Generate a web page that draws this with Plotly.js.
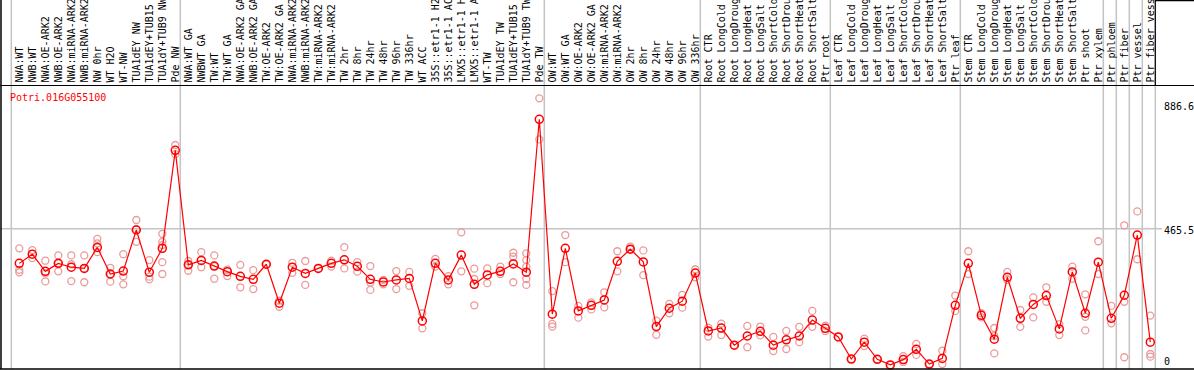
<!DOCTYPE html>
<html>
<head>
<meta charset="utf-8">
<script src="https://cdn.plot.ly/plotly-3.0.1.min.js"></script>
<style>
  html, body { margin: 0; padding: 0; background: #ffffff; }
  #chart { width: 1194px; height: 370px; }
</style>
</head>
<body>
<div id="chart"></div>
<script>
// ---------------- data ----------------
const geneId = 'Potri.016G055100';

const categories = [
  'NWA:WT', 'NWB:WT', 'NWA:OE-ARK2', 'NWB:OE-ARK2', 'NWA:miRNA-ARK2', 'NWB:miRNA-ARK2',
  'NW 0hr', 'WT H2O', 'WT-NW', 'TUA1dEY NW', 'TUA1dEY+TUB15', 'TUA1dY+TUB9 NW', 'Pde NW',
  'NWA:WT GA', 'NWBWT GA', 'TW:WT', 'TW:WT GA', 'NWA:OE-ARK2 GA', 'NWB:OE-ARK2 GA',
  'TW:OE-ARK2', 'TW:OE-ARK2 GA', 'NWA:miRNA-ARK2', 'NWB:miRNA-ARK2', 'TW:miRNA-ARK2',
  'TW:miRNA-ARK2', 'TW 2hr', 'TW 8hr', 'TW 24hr', 'TW 48hr', 'TW 96hr', 'TW 336hr',
  'WT ACC', '35S::etr1-1 H2O', '35S::etr1-1 ACC', 'LMX5::etr1-1 H2O', 'LMX5::etr1-1 ACC',
  'WT-TW', 'TUA1dEY TW', 'TUA1dEY+TUB15', 'TUA1dY+TUB9 TW', 'Pde TW',
  'OW:WT', 'OW:WT GA', 'OW:OE-ARK2', 'OW:OE-ARK2 GA', 'OW:miRNA-ARK2', 'OW:miRNA-ARK2',
  'OW 2hr', 'OW 8hr', 'OW 24hr', 'OW 48hr', 'OW 96hr', 'OW 336hr',
  'Root CTR', 'Root LongCold', 'Root LongDrought', 'Root LongHeat', 'Root LongSalt',
  'Root ShortCold', 'Root ShortDrought', 'Root ShortHeat', 'Root ShortSalt', 'Ptr root',
  'Leaf CTR', 'Leaf LongCold', 'Leaf LongDrought', 'Leaf LongHeat', 'Leaf LongSalt',
  'Leaf ShortCold', 'Leaf ShortDrought', 'Leaf ShortHeat', 'Leaf ShortSalt', 'Ptr leaf',
  'Stem CTR', 'Stem LongCold', 'Stem LongDrought', 'Stem LongHeat', 'Stem LongSalt',
  'Stem ShortCold', 'Stem ShortDrought', 'Stem ShortHeat', 'Stem ShortSalt', 'Ptr shoot',
  'Ptr xylem', 'Ptr phloem', 'Ptr fiber', 'Ptr vessel', 'Ptr fiber vessel'
];

// number of samples in each experiment block (separated by grey lines)
const groupSizes = [13, 28, 12, 10, 10, 11, 1, 1, 1, 1];

const meanValues = [
  348, 379, 321, 348, 335, 331, 402, 312, 322, 461, 318, 399, 731,
  343, 358, 339, 320, 304, 294, 345, 213, 335, 314, 331, 348, 360, 338, 294, 285, 292, 297,
  153, 348, 292, 376, 277, 309, 321, 346, 318, 836,
  176, 399, 187, 206, 224, 355, 396, 353, 134, 196, 220, 315,
  119, 129, 71, 102, 118, 71, 89, 102, 156, 128,
  99, 24, 81, 23, 4, 22, 57, 7, 26, 206,
  348, 172, 91, 301, 162, 209, 239, 126, 319, 179, 352,
  162, 240, 444, 81
];

const replicateValues = [
  [399, 326, 318], [393, 366], [357, 314, 287], [375, 348, 321], [375, 345, 288],
  [375, 331, 284], [431, 416, 386], [333, 312, 286], [379, 304, 277], [495, 464, 421],
  [359, 303, 294], [448, 421, 410, 352, 312], [749, 718],
  [356, 343, 323], [386, 335], [375, 339, 296], [327, 305], [343, 267], [325, 261],
  [345], [222, 201], [350, 316], [356, 275], [331], [357, 337], [403, 331], [352, 320],
  [339, 283, 258], [292, 277], [322, 261], [319, 272], [179, 128], [363, 337], [305, 277],
  [453, 321], [330, 295, 206], [331, 281], [337, 312], [384, 371, 284],
  [382, 359, 337, 295, 275], [907, 768],
  [254, 143, 134], [444, 352], [204, 164], [216, 192], [250, 199], [389, 321],
  [405, 396], [392, 308], [154, 106], [211, 179], [241, 198], [328, 301],
  [130, 100], [144, 105], [71], [136, 64], [134, 104], [99, 51], [119, 58], [133, 81],
  [187, 133], [137, 119],
  [99], [24], [93, 68], [23], [4], [34, 14], [75, 38], [7], [52, 7], [239, 187],
  [389, 312], [179, 165], [129, 102, 43], [319, 292], [190, 133], [233, 165], [267, 218],
  [142, 105], [337, 296], [243, 167, 121], [423, 312],
  [204, 145], [477, 218, 30], [524, 362], [171, 41, 32]
];

const yTickValues = [0, 465.5, 886.6];
const yTickLabels = ['0', '465.5', '886.6'];

// ---------------- build traces ----------------
const xIdx = categories.map((_, i) => i);
const repX = [], repY = [];
replicateValues.forEach((vals, i) => vals.forEach(v => { repX.push(i); repY.push(v); }));

const FONT = 'DejaVu Sans Mono, Liberation Mono, monospace';

const traces = [
  {
    type: 'scatter', mode: 'markers', x: repX, y: repY, hoverinfo: 'y',
    marker: { symbol: 'circle-open', size: 7, color: '#ec9a9a', line: { width: 1.3, color: '#ec9a9a' } },
    showlegend: false, cliponaxis: false
  },
  {
    type: 'scatter', mode: 'lines+markers', x: xIdx, y: meanValues, hoverinfo: 'x+y',
    line: { color: '#ff0000', width: 1.2 },
    marker: { symbol: 'circle-open', size: 8, color: '#ff0000', line: { width: 1.5, color: '#ff0000' } },
    showlegend: false, cliponaxis: false
  }
];

// ---------------- geometry ----------------
const W = 1194, H = 370;
const plotTop = 86, plotBottom = 369;
const firstX = 19.3, step = 13;                  // px of the first sample, px between samples
const xr0 = -firstX / step, xr1 = (W - firstX) / step;
const zeroY = 366.1, pxPerUnit = 0.2952;
const yr1 = (zeroY - plotTop) / pxPerUnit, yr0 = -(plotBottom - zeroY) / pxPerUnit;
const paperTop = (plotBottom - 0) / (plotBottom - plotTop);  // paper y of page top

const shapes = [];
// group separators
let cum = -1;
const sepPositions = [cum + 5 / step];
groupSizes.forEach(n => { cum += n; sepPositions.push(cum + 5 / step); });
sepPositions.forEach(p => shapes.push({
  type: 'line', xref: 'x', yref: 'paper', x0: p, x1: p, y0: 0, y1: paperTop,
  line: { color: '#c4c4c4', width: 1.5 }, layer: 'below'
}));
// horizontal grid line at the middle tick
shapes.push({
  type: 'line', xref: 'x', yref: 'y', x0: xr0, x1: (1162 - firstX) / step, y0: yTickValues[1], y1: yTickValues[1],
  line: { color: '#c4c4c4', width: 1.5 }, layer: 'below'
});
// frame lines
const lastSep = sepPositions[sepPositions.length - 1];
shapes.push({ type: 'line', xref: 'paper', yref: 'paper', x0: 1 / W, x1: 1 / W, y0: 0, y1: paperTop, line: { color: '#000', width: 1.5 } });
shapes.push({ type: 'line', xref: 'paper', yref: 'paper', x0: 0, x1: 1, y0: 0, y1: 0, line: { color: '#000', width: 1.5 } });
shapes.push({ type: 'line', xref: 'x', yref: 'paper', x0: lastSep, x1: lastSep, y0: 1, y1: paperTop, line: { color: '#000', width: 1.2 } });
shapes.push({ type: 'line', xref: 'x', yref: 'paper', x0: lastSep, x1: xr1, y0: paperTop - 0.002, y1: paperTop - 0.002, line: { color: '#000', width: 1.5 } });

const annotations = [
  {
    xref: 'paper', yref: 'paper', x: 8 / W, y: 1, xanchor: 'left', yanchor: 'top', yshift: -4,
    text: geneId, showarrow: false, font: { family: FONT, size: 10, color: '#ff0000' }
  }
];
const tickShift = [5, -2.3, -2.3];
yTickValues.forEach((v, i) => annotations.push({
  xref: 'x', yref: 'y', x: (1162 - firstX) / step, y: v, xanchor: 'left', yanchor: 'middle',
  yshift: tickShift[i], text: yTickLabels[i], showarrow: false,
  font: { family: FONT, size: 10, color: '#000' }
}));

const layout = {
  width: W, height: H,
  margin: { l: 0, r: 0, t: plotTop, b: H - plotBottom, pad: 0 },
  paper_bgcolor: '#ffffff', plot_bgcolor: '#ffffff',
  showlegend: false,
  font: { family: FONT, size: 10, color: '#000' },
  xaxis: {
    side: 'top', range: [xr0, xr1], tickmode: 'array', tickvals: xIdx, ticktext: categories,
    tickangle: -90, ticks: '', ticklen: 0, showgrid: false, zeroline: false,
    showline: true, linecolor: '#000', linewidth: 1.5,
    tickfont: { family: FONT, size: 10, color: '#000' }, automargin: false, fixedrange: true
  },
  yaxis: {
    range: [yr0, yr1], showticklabels: false, ticks: '', showgrid: false, zeroline: false,
    showline: false, automargin: false, fixedrange: true
  },
  shapes: shapes,
  annotations: annotations
};

Plotly.newPlot('chart', traces, layout, { displayModeBar: false, staticPlot: true });
</script>
</body>
</html>
